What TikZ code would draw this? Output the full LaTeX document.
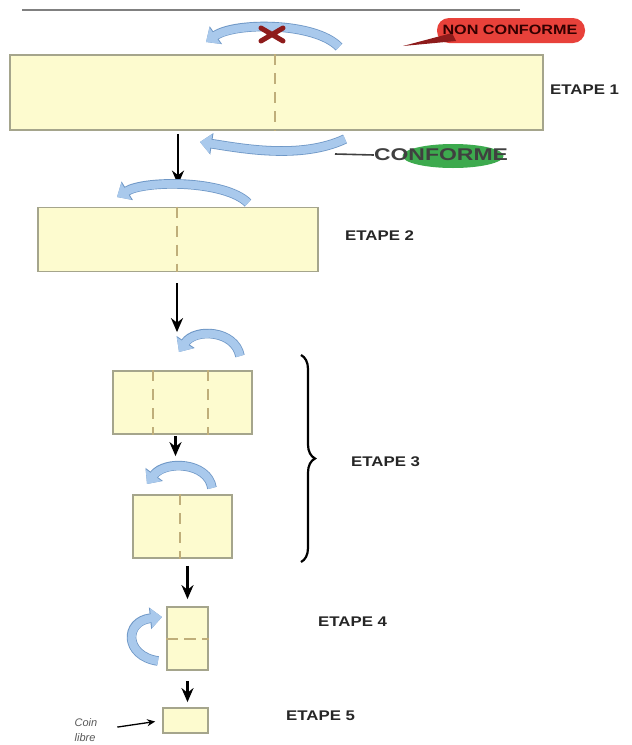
\documentclass[tikz,border=0pt]{standalone}
\usepackage{fontspec}
\setmainfont{Liberation Sans}
\newfontfamily\wfont{Liberation Sans}[FakeStretch=1.2]
\newfontfamily\cfont{Liberation Sans}[FakeStretch=1.35]
\usetikzlibrary{arrows.meta,decorations.pathreplacing,calc,shapes.geometric}
\definecolor{paper}{HTML}{FDFBCF}
\definecolor{paperedge}{HTML}{A5A58C}
\definecolor{foldline}{HTML}{BFAE7A}
\definecolor{foldblue}{HTML}{A9C9EC}
\definecolor{foldedge}{HTML}{6E97C6}
\definecolor{ncred}{HTML}{E8413A}
\definecolor{cgreen}{HTML}{3DAA4E}
\definecolor{xred}{HTML}{8E1B1B}
\tikzset{
  sheet/.style={draw=paperedge, fill=paper, line width=1.8pt, inner sep=0pt},
  foldmark/.style={draw=foldline, line width=2pt, dash pattern=on 11pt off 8pt},
  flow/.style={draw=black, line width=2.6pt, -{Stealth[length=14pt,width=12pt]}},
  turn/.style={line width=8pt, draw=foldblue, -{Triangle[length=11pt,width=19pt]},
    preaction={draw=foldedge, line width=9.6pt, -{Triangle[length=12pt,width=21pt]}}},
  etape/.style={anchor=west, text=black!85, font=\wfont\bfseries\fontsize{14}{16}\selectfont, inner sep=0pt},
}
\begin{document}
\begin{tikzpicture}[x=1pt,y=-1pt]
\useasboundingbox[fill=white] (0,0) rectangle (632,745);
% top rule
\draw[gray, line width=1.8pt] (22,10) -- (520,10);

% sheets
\node[sheet, minimum width=533pt, minimum height=75pt] (r1) at (276.5,92.5) {};
\node[sheet, minimum width=280pt, minimum height=64pt] (r2) at (178,239.5) {};
\node[sheet, minimum width=139pt, minimum height=63pt] (r3) at (182.5,402.5) {};
\node[sheet, minimum width=99pt, minimum height=63pt] (r4) at (182.5,526.5) {};
\node[sheet, minimum width=41pt, minimum height=63pt] (r5) at (187.5,638.5) {};
\node[sheet, minimum width=45pt, minimum height=25pt] (r6) at (185.5,720.5) {};

% fold lines
\draw[foldmark] ([xshift=-2pt]r1.north) -- ([xshift=-2pt]r1.south);
\draw[foldmark] ([xshift=-1pt]r2.north) -- ([xshift=-1pt]r2.south);
\draw[foldmark] ($(r3.north west)!0.29!(r3.north east)$) -- ($(r3.south west)!0.29!(r3.south east)$);
\draw[foldmark] ($(r3.north west)!0.68!(r3.north east)$) -- ($(r3.south west)!0.68!(r3.south east)$);
\draw[foldmark] ([xshift=-3pt]r4.north) -- ([xshift=-3pt]r4.south);
\draw[foldmark, dash pattern=on 12pt off 6pt] (r5.west) -- (r5.east);

% flow arrows
\draw[flow, shorten <=3pt, shorten >=22pt] (r1.south -| r2.north) -- (r2.north);
\draw[flow, shorten <=11pt, shorten >=38pt] ([xshift=-1pt]r2.south) -- ([xshift=-1pt]r2.south |- r3.north);
\draw[flow, shorten <=1pt, shorten >=38pt] ([xshift=-7pt]r3.south) -- ([xshift=-7pt]r3.south |- r4.north);
\draw[flow, shorten <=7pt, shorten >=7pt] (r4.south -| r5.north) -- (r5.north);
\draw[flow, shorten <=10pt, shorten >=5pt] (r5.south) -- (r5.south |- r6.north);

% turning arrows
\draw[turn] (339,47) .. controls (315,22) and (235,22) .. (206,42);
\draw[turn] (345,139) .. controls (300,160) and (240,148) .. (200,142);
\draw[turn] (248,203) .. controls (225,180) and (145,180) .. (117,197);
\draw[turn] (240,356) .. controls (235,330) and (195,328) .. (179,352);
\draw[turn] (212,488) .. controls (208,462) and (165,460) .. (147,484);
\draw[turn] (158,661) .. controls (124,656) and (124,621) .. (162,617);

% red cross
\draw[xred, line width=5pt, line cap=round] (261,28) -- (283,41) (261,41) -- (283,28);

% NON CONFORME
\node[fill=ncred, rounded corners=12pt, minimum width=148pt, minimum height=25pt, inner sep=0pt] (nc) at (511,30.5) {};
\fill[xred] (403,46) -- (452,33) -- (456,41) -- cycle;
\node[text=black!80!red, font=\wfont\bfseries\fontsize{13.5}{15}\selectfont, inner sep=0pt] (nct) at (510,30) {NON CONFORME};

% CONFORME
\node[ellipse, fill=cgreen, minimum width=101pt, minimum height=24pt, inner sep=0pt] (ce) at (453,156) {};
\node[text=black!75, font=\cfont\bfseries\fontsize{17}{19}\selectfont, inner sep=0pt] (ct) at (441,155) {CONFORME};
\coordinate (cl) at (335,154);
\draw[black!75, line width=1.6pt] (cl) -- (ct.west);

% brace
\draw[line width=2.2pt, decorate, decoration={brace, amplitude=14pt}] (301,355) -- (301,562);

% labels
\node[etape] (e1) at (550,90) {ETAPE 1};
\node[etape] (e2) at (345,236) {ETAPE 2};
\node[etape] (e3) at (351,462) {ETAPE 3};
\node[etape] (e4) at (318,622) {ETAPE 4};
\node[etape] (e5) at (286,716) {ETAPE 5};

% coin libre
\node[align=left, text=black!65, font=\itshape\fontsize{11}{15}\selectfont, inner sep=0pt] (coin) at (86,730) {Coin\\libre};
\draw[black, line width=1.3pt, -{Stealth[length=8pt,width=7pt]}, shorten <=20pt, shorten >=7pt] (coin.east) -- (r6.west);
\end{tikzpicture}
\end{document}
